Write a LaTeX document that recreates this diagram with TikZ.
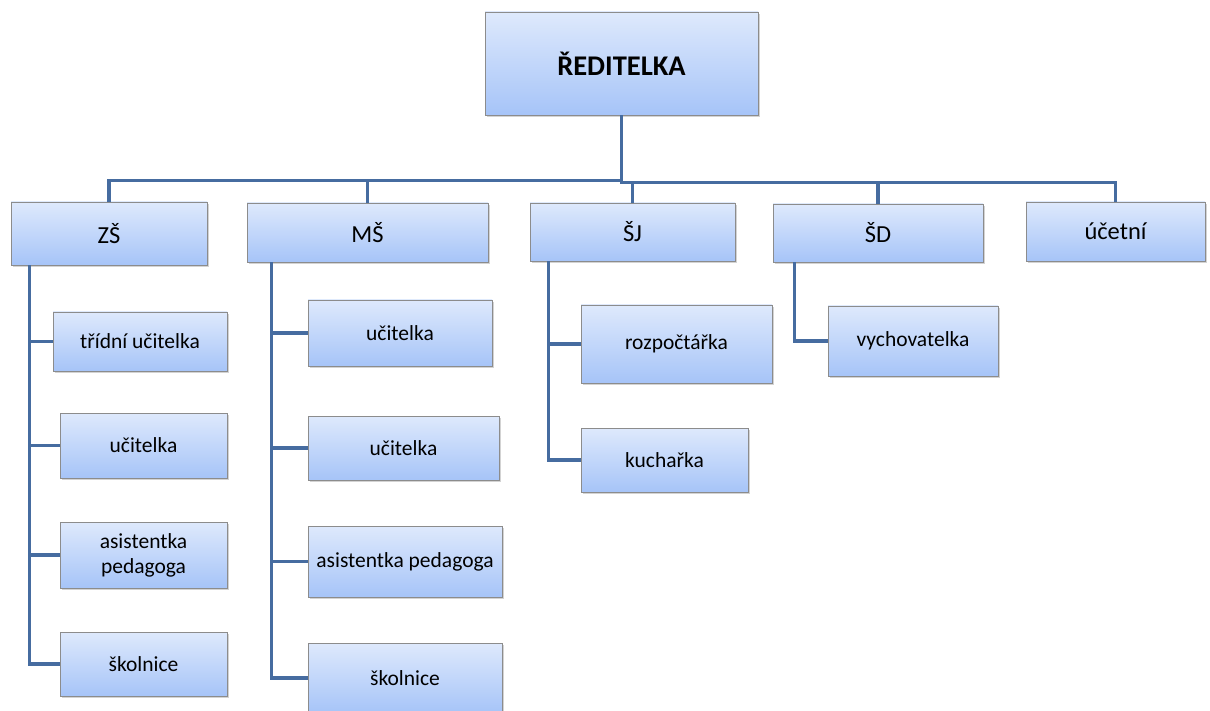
\documentclass[tikz,border=0pt]{standalone}
\usepackage{fontspec}
\setmainfont{Carlito}
\usetikzlibrary{shadows}
\definecolor{linkblue}{RGB}{70,108,160}
\definecolor{boxtop}{RGB}{222,233,252}
\definecolor{boxbot}{RGB}{166,196,248}

\begin{document}
\begin{tikzpicture}[x=1pt,y=-1pt,
box/.style={draw=black!45,line width=0.8pt,top color=boxtop,bottom color=boxbot,
  drop shadow={opacity=0.35,shadow xshift=1.5pt,shadow yshift=-2pt},
  inner sep=0pt,align=center,font=\fontsize{21.5}{25}\selectfont},
head/.style={box,font=\fontsize{24.5}{29}\selectfont},
conn/.style={draw=linkblue,line width=3.5pt}]
\useasboundingbox (0,0) rectangle (1210,711);
\begin{scope}
\clip (0,0) rectangle (1210,711);
% top
\node[box,minimum width=273pt,minimum height=103pt,
  font=\fontsize{28.5}{33}\selectfont\bfseries] (red) at (621.5,63.5) {ŘEDITELKA};
% second row
\node[head,minimum width=196pt,minimum height=63pt] (zs) at (109,233.5) {ZŠ};
\node[head,minimum width=241pt,minimum height=59pt] (ms) at (367.5,232.5) {MŠ};
\node[head,minimum width=205pt,minimum height=58pt] (sj) at (632.5,232) {ŠJ};
\node[head,minimum width=210pt,minimum height=58pt] (sd) at (878,233) {ŠD};
\node[head,minimum width=179pt,minimum height=59pt] (uc) at (1115.5,231.5) {účetní};
% ZS
\node[box,minimum width=174pt,minimum height=59pt] (zs1) at (140,341.5) {třídní učitelka};
\node[box,minimum width=167pt,minimum height=65pt] (zs2) at (143.5,445.5) {učitelka};
\node[box,minimum width=167pt,minimum height=66pt] (zs3) at (143.5,555) {asistentka\\pedagoga};
\node[box,minimum width=167pt,minimum height=64pt] (zs4) at (143.5,664) {školnice};
% MS
\node[box,minimum width=184pt,minimum height=66pt] (ms1) at (400,333) {učitelka};
\node[box,minimum width=191pt,minimum height=64pt] (ms2) at (403.5,448) {učitelka};
\node[box,minimum width=194pt,minimum height=71pt] (ms3) at (405,561.5) {asistentka pedagoga};
\node[box,minimum width=194pt,minimum height=70pt] (ms4) at (405,678) {školnice};
% SJ
\node[box,minimum width=191pt,minimum height=78pt] (sj1) at (676.5,344) {rozpočtářka};
\node[box,minimum width=167pt,minimum height=64pt] (sj2) at (664.5,460) {kuchařka};
% SD
\node[box,minimum width=170pt,minimum height=70pt] (sd1) at (913,341) {vychovatelka};

% links
\draw[conn] (red.south) -- ++(0,65) coordinate (hub);
\draw[conn] (zs.north) |- (hub);
\draw[conn] (ms.north) |- (hub);
\draw[conn] (hub) -- ++(0,2) coordinate (hub2) -| (uc.north);
\draw[conn] (sj.north) |- (hub2);
\draw[conn] (sd.north) |- (hub2);
\foreach \c in {zs1,zs2,zs3,zs4}
  \draw[conn] ([xshift=19pt]zs.south west) |- (\c.west);
\foreach \c in {ms1,ms2,ms3,ms4}
  \draw[conn] ([xshift=25pt]ms.south west) |- (\c.west);
\foreach \c in {sj1,sj2}
  \draw[conn] ([xshift=19pt]sj.south west) |- (\c.west);
\draw[conn] ([xshift=22pt]sd.south west) |- (sd1.west);
\end{scope}
\end{tikzpicture}
\end{document}
